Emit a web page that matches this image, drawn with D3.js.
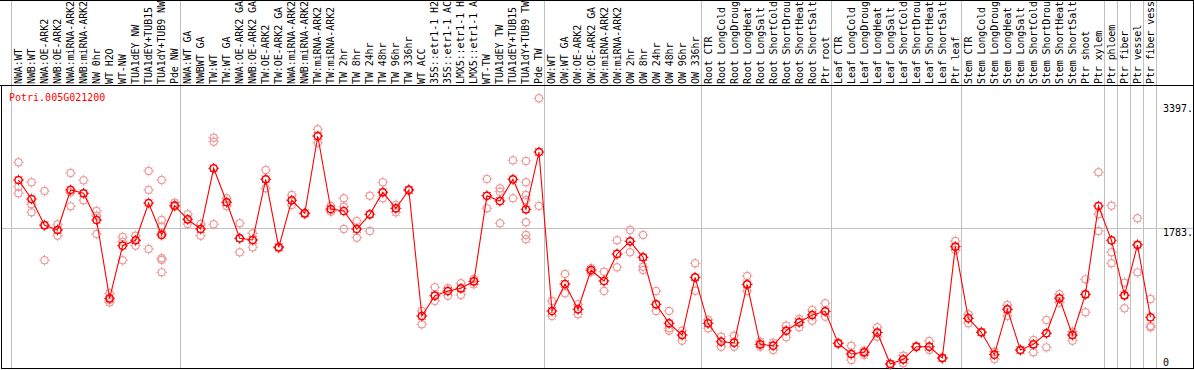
<!DOCTYPE html>
<html><head><meta charset="utf-8">
<script src="https://cdn.jsdelivr.net/npm/d3@7"></script>
<style>
body{margin:0;background:#fff}
svg{display:block}
text{font-family:"DejaVu Sans Mono","Liberation Mono",monospace;font-size:10px}
</style>
</head><body>
<svg id="chart" width="1194" height="370"></svg>
<script>
const geneId = "Potri.005G021200";

const samples = [
"NWA:WT","NWB:WT","NWA:OE-ARK2","NWB:OE-ARK2","NWA:miRNA-ARK2","NWB:miRNA-ARK2","NW 0hr","WT H2O","WT-NW","TUA1dEY NW","TUA1dEY+TUB15 NW","TUA1dY+TUB9 NW","Pde NW",
"NWA:WT GA","NWBWT GA","TW:WT","TW:WT GA","NWA:OE-ARK2 GA","NWB:OE-ARK2 GA","TW:OE-ARK2","TW:OE-ARK2 GA","NWA:miRNA-ARK2 GA","NWB:miRNA-ARK2 GA","TW:miRNA-ARK2","TW:miRNA-ARK2",
"TW 2hr","TW 8hr","TW 24hr","TW 48hr","TW 96hr","TW 336hr","WT ACC","35S::etr1-1 H2O","35S::etr1-1 ACC","LMX5::etr1-1 H2O","LMX5::etr1-1 ACC","WT-TW","TUA1dEY TW","TUA1dEY+TUB15 TW","TUA1dY+TUB9 TW","Pde TW",
"OW:WT","OW:WT GA","OW:OE-ARK2","OW:OE-ARK2 GA","OW:miRNA-ARK2","OW:miRNA-ARK2","OW 2hr","OW 8hr","OW 24hr","OW 48hr","OW 96hr","OW 336hr",
"Root CTR","Root LongCold","Root LongDrought","Root LongHeat","Root LongSalt","Root ShortCold","Root ShortDrought","Root ShortHeat","Root ShortSalt","Ptr root",
"Leaf CTR","Leaf LongCold","Leaf LongDrought","Leaf LongHeat","Leaf LongSalt","Leaf ShortCold","Leaf ShortDrought","Leaf ShortHeat","Leaf ShortSalt","Ptr leaf",
"Stem CTR","Stem LongCold","Stem LongDrought","Stem LongHeat","Stem LongSalt","Stem ShortCold","Stem ShortDrought","Stem ShortHeat","Stem ShortSalt","Ptr shoot","Ptr xylem",
"Ptr phloem","Ptr fiber","Ptr vessel","Ptr fiber vessel"
];

const means = [
2408,2160,1818,1757,2278,2235,1887,868,1553,1623,2108,1692,2073,
1896,1770,2560,2118,1649,1627,2417,1532,2144,1974,2980,2030,
2004,1770,1961,2248,2039,2278,638,902,963,998,1089,2203,2134,2417,2026,2772,
703,1054,725,1236,1093,1445,1610,1402,790,543,390,1141,
543,303,290,1050,269,251,446,556,651,699,
282,143,165,423,13,74,238,238,91,1540,
608,426,134,725,195,269,413,868,390,920,2069,
1623,907,1562,621
];

const replicates = [
[2638,2321,2235],[2378,2092,1987],[2265,1826,1363],[1831,1757,1683],[2499,2248,2065],[2404,2235,2144],[2004,1943,1705],[933,846,816],[1666,1605,1363],[1683,1623,1553],[2525,2278,1510],[2408,1887,1800,1714,1389,1367,1206],[2112,2082,2060],
[1961,1896,1835],[1835,1770,1683],[2958,2906,1831],[2170,2118,2069],[1844,1649,1467],[1714,1627,1532],[2538,2417,2300],[1540,1532,1519],[2213,2144,2082],[1982,1974,1965],[3068,2980,2893],[2069,2017,1995],
[2170,2060,1770],[1874,1770,1657],[2203,1961,1744],[2378,2248,2170],[2082,2039,1987],[2270,2278,2286],[703,638,530],[1011,902,833],[998,963,902],[1063,998,911],[1119,1089,1050],[2421,2203,2039],[2300,2256,2134,1844],[2664,2417,2170],[2655,2378,2213,2147,1857,1692,1636],[3471,2772,2069],
[833,703,638],[1184,1054,933],[790,725,660],[1260,1236,1210],[1214,1093,963],[1623,1445,1272],[1757,1610,1467],[1692,1402,1279,1236],[963,790,703],[703,543,478,446],[446,390,316],[1324,1141,967],
[586,543,478],[368,303,238],[381,290,238],[1158,1050,963],[303,269,238],[290,251,195],[511,446,360],[599,556,491],[716,651,577],[803,699,629],
[275,282,289],[251,143,65],[186,165,130],[491,426,368],[10,13,16],[121,74,22],[230,238,246],[312,238,195],[85,91,97],[1614,1540,1497],
[660,608,543],[420,426,432],[173,134,78],[781,725,638],[190,195,200],[325,269,165],[586,413,230],[920,868,811],[433,390,316],[1115,920,686],[2508,1961,1744],
[2073,1467,1324],[1071,911,738],[1909,1571,1206],[859,508,491]
];

const groupBreaks = [0,13,41,53,63,73,84,85,86,87,88];
const yMax = 3566;
const yTickValues = [3397, 1783, 0];
const yTickLabels = ["3397.", "1783.", "0"];
const yGridValues = [1783];
const maxLabelChars = 14;

const W = 1194, H = 370;
const plot = {left: 11, right: 1156, top: 91, bottom: 365, header: 85};
const svg = d3.select("#chart");

const x = d3.scaleBand().domain(d3.range(samples.length)).range([plot.left, plot.right]).padding(0);
const y = d3.scaleLinear().domain([0, yMax]).range([plot.bottom, plot.top]);
const cx = i => x(i) + x.bandwidth() / 2 + 1;

// grid lines
svg.append("g").selectAll("line").data(groupBreaks).join("line")
  .attr("x1", d => Math.round(plot.left + d * x.step()) + 0.5)
  .attr("x2", d => Math.round(plot.left + d * x.step()) + 0.5)
  .attr("y1", 0).attr("y2", 368)
  .attr("stroke", "#c0c0c0").attr("stroke-width", 1);

svg.append("g").selectAll("line").data(yGridValues).join("line")
  .attr("x1", 1).attr("x2", 1193)
  .attr("y1", d => Math.round(y(d)) + 0.5).attr("y2", d => Math.round(y(d)) + 0.5)
  .attr("stroke", "#c0c0c0").attr("stroke-width", 1);

// borders
const border = svg.append("g").attr("stroke", "#000").attr("stroke-width", 1).attr("shape-rendering", "crispEdges");
border.append("line").attr("x1", 0).attr("x2", W).attr("y1", 0.5).attr("y2", 0.5);
border.append("line").attr("x1", 0).attr("x2", W).attr("y1", plot.header + 0.5).attr("y2", plot.header + 0.5);
border.append("line").attr("x1", 1.5).attr("x2", 1.5).attr("y1", plot.header).attr("y2", 369);
border.append("line").attr("x1", 1193.5).attr("x2", 1193.5).attr("y1", 0).attr("y2", 369);
border.append("line").attr("x1", 1).attr("x2", 1194).attr("y1", 368.5).attr("y2", 368.5);

// header labels (header only has room for 14 characters, as in the original)
svg.append("g").selectAll("text").data(samples).join("text")
  .attr("transform", (d, i) => `translate(${x(i) + x.bandwidth() / 2 + 4.5},84) rotate(-90)`)
  .attr("fill", "#000")
  .attr("letter-spacing", "-0.1")
  .text(d => d.length > maxLabelChars ? d.slice(0, maxLabelChars) : d);

// right axis labels
svg.append("g").selectAll("text").data(yTickValues).join("text")
  .attr("x", 1163)
  .attr("y", d => Math.min(y(d) + 8, 366))
  .attr("fill", "#000")
  .text((d, i) => yTickLabels[i]);

// title
svg.append("text").attr("x", 9).attr("y", 101).attr("fill", "#ff0000").text(geneId);

function marker(g, color, sw) {
  g.append("circle").attr("r", 3.6).attr("fill", "none").attr("stroke", color).attr("stroke-width", sw);
  g.append("path").attr("d", "M0,-3.6V-5.4M0,3.6V5.4M-3.6,0H-5.4M3.6,0H5.4M-2.6,-2.6L-3.6,-3.6M2.6,-2.6L3.6,-3.6M-2.6,2.6L-3.6,3.6M2.6,2.6L3.6,3.6")
    .attr("stroke", color).attr("stroke-width", 0.9).attr("fill", "none");
}

// replicates
const reps = [];
replicates.forEach((arr, i) => arr.forEach(v => reps.push({i, v})));
svg.append("g").selectAll("g").data(reps).join("g")
  .attr("transform", d => `translate(${cx(d.i)},${y(d.v)})`)
  .each(function() { marker(d3.select(this), "#eb9c9c", 1.2); });

// line through means
svg.append("path").datum(means)
  .attr("fill", "none").attr("stroke", "#ff0000").attr("stroke-width", 1.1)
  .attr("d", d3.line().x((d, i) => cx(i)).y(d => y(d)));

// means
svg.append("g").selectAll("g").data(means).join("g")
  .attr("transform", (d, i) => `translate(${cx(i)},${y(d)})`)
  .each(function() { marker(d3.select(this), "#ff0000", 1.5); });
</script>
</body></html>
